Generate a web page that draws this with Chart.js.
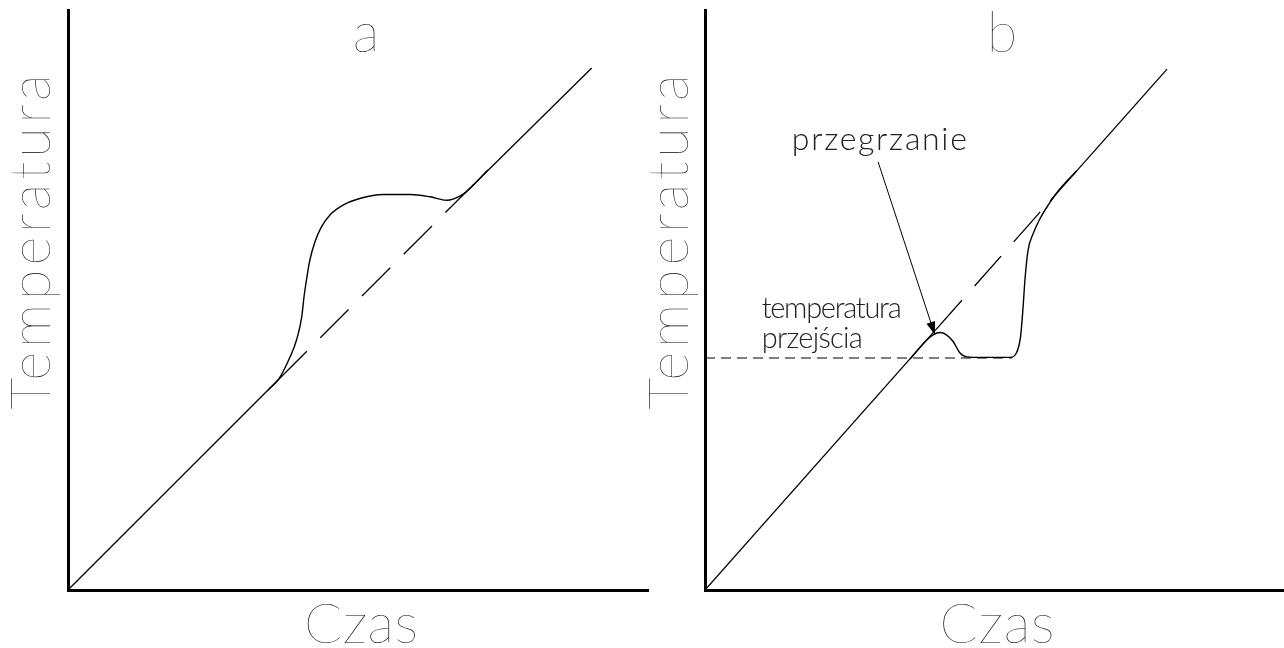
<!DOCTYPE html>
<html>
<head>
<meta charset="utf-8">
<script src="https://cdn.jsdelivr.net/npm/chart.js@4"></script>
<style>
  html, body { margin: 0; background: #fff; }
  #wrap { position: relative; width: 1284px; height: 648px; overflow: hidden; }
  canvas { position: absolute; top: 0; }
  #chartA { left: 0; }
  #chartB { left: 640px; }
</style>
</head>
<body>
<div id="wrap">
  <canvas id="chartA" width="660" height="648"></canvas>
  <canvas id="chartB" width="644" height="648"></canvas>
</div>
<script>
// wykres a: nagrzewanie bez przegrzania
const aDiagX = [0, 36.3, 68.2, 90.3];
const aDiagY = [0, 36.3, 68.2, 90.0];
const aCurveX = [34.5, 36.3, 38.3, 39.4, 40.3, 40.7, 41.2, 41.7, 42.6, 43.7, 45.2, 47.5, 50.3, 54.4, 59.0, 62.4, 65.3, 66.4, 68.2, 72.4];
const aCurveY = [34.5, 36.3, 40.2, 43.1, 47.1, 50.6, 54.0, 56.9, 60.1, 62.6, 64.7, 66.4, 67.5, 68.2, 68.2, 67.8, 67.2, 67.4, 68.3, 72.4];

// wykres b: przegrzanie i przemiana
const bDiagX = [0, 39.8, 59.6, 79.8];
const bDiagY = [0, 44.8, 67.1, 89.8];
const bCurveX = [35.4, 38.2, 39.4, 40.6, 41.7, 42.9, 44.0, 45.2, 48.1, 52.7, 53.8, 54.5, 54.9, 55.3, 55.8, 56.7, 57.9, 59.3, 61.0, 64.2];
const bCurveY = [39.8, 43.0, 44.0, 44.4, 44.0, 42.8, 40.9, 40.2, 40.1, 40.1, 40.9, 43.7, 48.3, 54.0, 58.6, 61.5, 64.1, 66.4, 68.8, 72.3];
const bLevelX = [0, 53.0];
const bLevelY = [40.0, 40.0];
const bArrowX = [29.9, 39.7];
const bArrowY = [73.8, 44.0];

const xLabel = 'Czas';
const yLabel = 'Temperatura';

const FONT = '"Lato", "DejaVu Sans", sans-serif';

const pts = (xs, ys) => xs.map((x, i) => ({ x, y: ys[i] }));

// grot strzałki na końcu zbioru z flagą arrow
const arrowHead = {
  id: 'arrowHead',
  afterDatasetsDraw(chart) {
    const ctx = chart.ctx;
    chart.data.datasets.forEach((ds, i) => {
      if (!ds.arrow) return;
      const el = chart.getDatasetMeta(i).data;
      const a = el[el.length - 2], b = el[el.length - 1];
      const ang = Math.atan2(b.y - a.y, b.x - a.x);
      ctx.save();
      ctx.translate(b.x, b.y);
      ctx.rotate(ang);
      ctx.beginPath();
      ctx.moveTo(0, 0);
      ctx.lineTo(-13, -4.5);
      ctx.lineTo(-13, 4.5);
      ctx.closePath();
      ctx.fillStyle = '#000';
      ctx.fill();
      ctx.restore();
    });
  }
};

// napisy: rozstrzelone jak w czcionce technicznej
function textLayer(items) {
  return {
    id: 'textLayer',
    afterDraw(chart) {
      const { ctx, chartArea: area, scales } = chart;
      items.forEach(it => {
        ctx.save();
        ctx.font = `${it.weight} ${it.size}px ${FONT}`;
        ctx.fillStyle = it.color || '#000';
        ctx.textAlign = 'left';
        ctx.textBaseline = 'alphabetic';
        ctx.letterSpacing = '0px';
        const natural = ctx.measureText(it.text).width;
        const n = it.text.length;
        const spacing = it.width && n > 1 ? (it.width - natural) / (n - 1) : 0;
        ctx.letterSpacing = spacing + 'px';
        const w = it.width || natural;
        let x, y;
        if (it.value) {
          x = scales.x.getPixelForValue(it.value[0]);
          y = scales.y.getPixelForValue(it.value[1]);
        } else {
          const cx = (area.left + area.right) / 2, cy = (area.top + area.bottom) / 2;
          x = (it.edgeX === 'mid' ? cx : area[it.edgeX]) + it.dx;
          y = (it.edgeY === 'mid' ? cy : area[it.edgeY]) + it.dy;
        }
        ctx.translate(x, y);
        if (it.rotate) ctx.rotate(-Math.PI / 2);
        ctx.fillText(it.text, it.align === 'center' ? -w / 2 : 0, 0);
        ctx.restore();
      });
    }
  };
}

function makeChart(id, yWidth, padRight, datasets, texts) {
  const axis = (fit) => ({
    type: 'linear', min: 0, max: 100,
    ticks: { display: false },
    grid: { display: false },
    border: { display: true, color: '#000', width: 3 },
    afterFit: fit
  });
  return new Chart(document.getElementById(id), {
    type: 'line',
    data: { datasets },
    options: {
      responsive: false,
      animation: false,
      events: [],
      layout: { padding: { top: 10, right: padRight, left: 0, bottom: 0 } },
      elements: {
        point: { radius: 0 },
        line: { borderColor: '#000', borderWidth: 1.4, fill: false }
      },
      scales: {
        x: axis(s => { s.height = 58; }),
        y: axis(s => { s.width = yWidth; })
      },
      plugins: { legend: { display: false }, tooltip: { enabled: false } }
    },
    plugins: [arrowHead, textLayer(texts)]
  });
}

const longDash = c => c.p0DataIndex === 1 ? [40, 19] : undefined;

makeChart('chartA', 68, 12, [
  { data: pts(aDiagX, aDiagY), borderWidth: 1.3, segment: { borderDash: longDash } },
  { data: pts(aCurveX, aCurveY), cubicInterpolationMode: 'monotone' }
], [
  { text: 'a', size: 56, weight: 200, edgeX: 'mid', dx: 8, edgeY: 'top', dy: 42, align: 'center' },
  { text: xLabel, size: 56, weight: 200, width: 114, edgeX: 'mid', dx: 3, edgeY: 'bottom', dy: 53, align: 'center' },
  { text: yLabel, size: 56, weight: 200, width: 335, edgeX: 'left', dx: -18, edgeY: 'mid', dy: -58, align: 'center', rotate: true }
]);

makeChart('chartB', 65, 0, [
  { data: pts(bDiagX, bDiagY), borderWidth: 1.3, segment: { borderDash: longDash } },
  { data: pts(bCurveX, bCurveY), cubicInterpolationMode: 'monotone' },
  { data: pts(bLevelX, bLevelY), borderWidth: 1, borderDash: [10, 6] },
  { data: pts(bArrowX, bArrowY), borderWidth: 1, arrow: true }
], [
  { text: 'b', size: 56, weight: 200, edgeX: 'mid', dx: 7.5, edgeY: 'top', dy: 42, align: 'center' },
  { text: xLabel, size: 56, weight: 200, width: 115, edgeX: 'mid', dx: 2.5, edgeY: 'bottom', dy: 53, align: 'center' },
  { text: yLabel, size: 56, weight: 200, width: 335, edgeX: 'left', dx: -17, edgeY: 'mid', dy: -58, align: 'center', rotate: true },
  { text: 'przegrzanie', size: 32, weight: 300, color: '#222', width: 175, value: [15.0, 75.9] },
  { text: 'temperatura', size: 29, weight: 300, color: '#222', width: 140, value: [9.8, 46.9] },
  { text: 'przejścia', size: 29, weight: 300, color: '#222', width: 101, value: [9.8, 41.7] }
]);
</script>
</body>
</html>
